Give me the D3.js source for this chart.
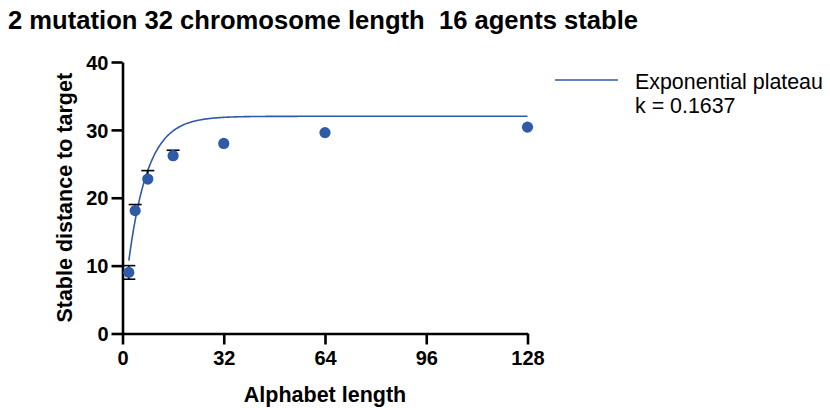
<!DOCTYPE html>
<html>
<head>
<meta charset="utf-8">
<script src="https://cdn.jsdelivr.net/npm/d3@7"></script>
<style>
  body { margin: 0; background: #fff; }
  text { font-family: "Liberation Sans", Arial, Helvetica, sans-serif; }
</style>
</head>
<body>
<svg id="chart" width="830" height="408"></svg>
<script>
let width = 830;
let height = 408;

// data
const alphabet = [2, 4, 8, 16, 32, 64, 128];
const meanDist = [9.0, 18.1, 22.75, 26.2, 28.0, 29.6, 30.4];
const errUp   = [1.0, 0.9, 1.25, 0.8, 0, 0, 0];
const errDown = [1.0, 0, 0, 0, 0, 0, 0];
const xTicks = [0, 32, 64, 96, 128];
const yTicks = [0, 10, 20, 30, 40];

// fitted exponential plateau
const fitK = 0.1637;
const fitYM = 32.0;
const fitY0 = 2.5;

const title = "2 mutation 32 chromosome length  16 agents stable";

const blue = "#2e5aa7";

const svg = d3.select("#chart");

const x = d3.scaleLinear().domain([0, 128]).range([122.5, 527.5]);
const y = d3.scaleLinear().domain([0, 40]).range([333.5, 62]);

// title
svg.append("text")
    .attr("x", 8)
    .attr("y", 29)
    .style("font-size", "25.6px")
    .style("font-weight", "bold")
    .style("white-space", "pre")
    .text(title);

// axes
const xAxis = svg.append("g")
    .attr("transform", `translate(0,${y(0)})`)
    .call(d3.axisBottom(x).tickValues(xTicks).tickSize(11).tickSizeOuter(0).tickPadding(6));
const yAxis = svg.append("g")
    .attr("transform", `translate(${x(0)},0)`)
    .call(d3.axisLeft(y).tickValues(yTicks).tickSize(11).tickSizeOuter(0).tickPadding(3));

[xAxis, yAxis].forEach(g => {
    g.selectAll("path, line").attr("stroke", "#000").attr("stroke-width", 2.6);
    g.selectAll("text")
        .attr("fill", "#000")
        .style("font-size", "20px")
        .style("font-weight", "bold")
        .style("font-family", "'Liberation Sans', Arial, sans-serif");
});
yAxis.selectAll("text").attr("dy", "0.36em");

// axis titles
svg.append("text")
    .attr("x", (x(0) + x(128)) / 2)
    .attr("y", 402)
    .attr("text-anchor", "middle")
    .style("font-size", "21.5px")
    .style("font-weight", "bold")
    .text("Alphabet length");

svg.append("text")
    .attr("transform", `translate(72,${(y(0) + y(40)) / 2}) rotate(-90)`)
    .attr("text-anchor", "middle")
    .style("font-size", "21.5px")
    .style("font-weight", "bold")
    .text("Stable distance to target");

// fit curve
const fit = xv => fitYM - (fitYM - fitY0) * Math.exp(-fitK * xv);
const curveX = d3.range(2, 128.01, 0.5);
const line = d3.line()
    .x(d => x(d))
    .y(d => y(fit(d)))
    .curve(d3.curveMonotoneX);

svg.append("path")
    .datum(curveX)
    .attr("fill", "none")
    .attr("stroke", blue)
    .attr("stroke-width", 1.6)
    .attr("d", line);

// error bars
const pts = alphabet.map((a, i) => ({ a: a, m: meanDist[i], up: errUp[i], dn: errDown[i] }));
const eb = svg.append("g").attr("stroke", "#000").attr("stroke-width", 1.6);
pts.forEach(d => {
    if (d.up > 0) {
        eb.append("line").attr("x1", x(d.a)).attr("x2", x(d.a)).attr("y1", y(d.m)).attr("y2", y(d.m + d.up));
        eb.append("line").attr("x1", x(d.a) - 6.5).attr("x2", x(d.a) + 6.5).attr("y1", y(d.m + d.up)).attr("y2", y(d.m + d.up));
    }
    if (d.dn > 0) {
        eb.append("line").attr("x1", x(d.a)).attr("x2", x(d.a)).attr("y1", y(d.m)).attr("y2", y(d.m - d.dn));
        eb.append("line").attr("x1", x(d.a) - 6.5).attr("x2", x(d.a) + 6.5).attr("y1", y(d.m - d.dn)).attr("y2", y(d.m - d.dn));
    }
});

// points
svg.append("g")
    .selectAll("circle")
    .data(pts)
    .join("circle")
    .attr("cx", d => x(d.a))
    .attr("cy", d => y(d.m))
    .attr("r", 5.6)
    .attr("fill", blue);

// legend
svg.append("line")
    .attr("x1", 555).attr("x2", 618)
    .attr("y1", 80).attr("y2", 80)
    .attr("stroke", blue)
    .attr("stroke-width", 1.6);
svg.append("text")
    .attr("x", 635).attr("y", 89)
    .style("font-size", "21.4px")
    .text("Exponential plateau");
svg.append("text")
    .attr("x", 635).attr("y", 113)
    .style("font-size", "21.4px")
    .text("k = " + fitK);
</script>
</body>
</html>
